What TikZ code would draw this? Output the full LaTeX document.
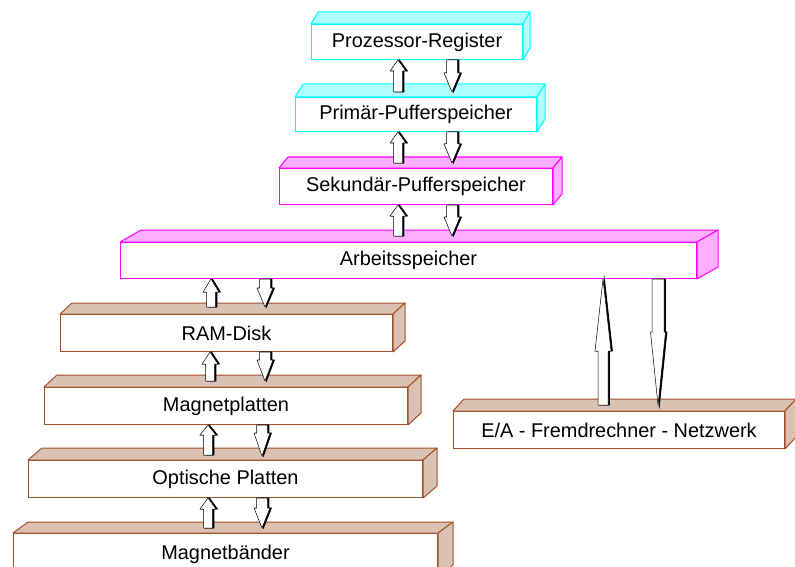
\documentclass[tikz,border=0pt]{standalone}
\usepackage{fontspec}
\setmainfont{Liberation Sans}
\usetikzlibrary{calc}
\definecolor{cyE}{RGB}{0,255,255}
\definecolor{cyF}{RGB}{175,255,255}
\definecolor{mgE}{RGB}{255,0,255}
\definecolor{mgF}{RGB}{255,175,255}
\definecolor{brE}{RGB}{160,82,45}
\definecolor{brF}{RGB}{219,193,178}
\tikzset{
  slabfront/.style={rectangle, fill=white, line width=1pt, inner sep=0pt,
    anchor=north west, font=\fontsize{19.9}{22}\selectfont},
  slabface/.style={line width=1pt, line join=round},
  arrshadow/.style={fill=black, draw=black, line width=0.9pt, line join=miter},
  arrbody/.style={fill=white, draw=black, line width=0.5pt, line join=miter}
}
% #1 name, #2 x1, #3 y1, #4 x2, #5 y2, #6 dx, #7 dy, #8 colour key, #9 text
\newcommand\slab[9]{%
  \node[slabfront, draw=#8E, minimum width={(#4-#2)*1pt}, minimum height={(#5-#3)*1pt}]
    (#1) at (#2,#3) {#9};
  \path[slabface, draw=#8E, fill=#8F] (#1.north west) -- ++(#6,-#7)
    -- ($(#1.north east)+(#6,-#7)$) -- (#1.north east) -- cycle;
  \path[slabface, draw=#8E, fill=#8F] (#1.north east) -- ++(#6,-#7)
    -- ($(#1.south east)+(#6,-#7)$) -- (#1.south east) -- cycle;
}
% #1 x, #2 upper node, #3 lower node, #4 head length, #5 gap, #6 shaft half, #7 head half
\newcommand\arrup[7]{%
  \coordinate (T) at (#1,0 |- #2.south);
  \coordinate (B) at ($(#1,0 |- #3.north)+(0,-#5)$);
  \foreach \s/\st in {1.4/arrshadow,0/arrbody}{
    \path[\st] ($(T)+(\s,0)$) -- ($(T)+(#7+\s,#4)$) -- ($(T)+(#6+\s,#4)$)
      -- ($(B)+(#6+\s,0)$) -- ($(B)+(-#6+\s,0)$) -- ($(T)+(-#6+\s,#4)$)
      -- ($(T)+(-#7+\s,#4)$) -- cycle;
  }
}
\newcommand\arrdown[7]{%
  \coordinate (T) at (#1,0 |- #2.south);
  \coordinate (B) at ($(#1,0 |- #3.north)+(0,-#5)$);
  \foreach \s/\st in {1.4/arrshadow,0/arrbody}{
    \path[\st] ($(T)+(-#6+\s,0)$) -- ($(T)+(#6+\s,0)$) -- ($(B)+(#6+\s,-#4)$)
      -- ($(B)+(#7+\s,-#4)$) -- ($(B)+(\s,0)$) -- ($(B)+(-#7+\s,-#4)$)
      -- ($(B)+(-#6+\s,-#4)$) -- cycle;
  }
}
\begin{document}
\begin{tikzpicture}[x=1pt, y=-1pt]
\clip (0,0) rectangle (795,567);
\fill[white] (0,0) rectangle (795,567);
\slab{b1}{311}{24}{522}{59}{7}{12}{cy}{Prozessor-Register}
\slab{b2}{295}{97}{536}{131}{8}{13}{cy}{Primär-Pufferspeicher}
\slab{b3}{279}{168}{552}{204}{9}{11}{mg}{Sekundär-Pufferspeicher}
\slab{b4}{120}{242}{696}{278}{21}{12}{mg}{Arbeitsspeicher}
\slab{b5}{60}{314}{392}{351}{12}{11}{br}{RAM-Disk}
\slab{b6}{44}{387}{407}{424}{13}{12}{br}{Magnetplatten}
\slab{b7}{28}{460}{422}{497}{14}{12}{br}{Optische Platten}
\slab{b8}{13}{533}{437}{575}{15}{11}{br}{Magnetbänder}
\slab{b9}{453}{411}{784}{448}{11}{12}{br}{E/A - Fremdrechner - Netzwerk}
% arrows
\arrup{398}{b1}{b2}{11}{5}{4.5}{8}
\arrdown{452}{b1}{b2}{19}{5}{5.5}{8}
\arrup{398}{b2}{b3}{11}{5}{4.5}{8}
\arrdown{452}{b2}{b3}{19}{5}{5.5}{8}
\arrup{398}{b3}{b4}{11}{6}{4.5}{8}
\arrdown{452}{b3}{b4}{19}{6}{5.5}{8}
\arrup{211}{b4}{b5}{13}{7}{4.5}{8}
\arrdown{265}{b4}{b5}{19}{7}{5.5}{8}
\arrup{210}{b5}{b6}{12}{6}{4.5}{8}
\arrdown{265}{b5}{b6}{21}{6}{5.5}{8}
\arrup{208}{b6}{b7}{10}{5}{4.5}{8}
\arrdown{262}{b6}{b7}{23}{4}{5.5}{8}
\arrup{208}{b7}{b8}{11}{5}{4.5}{8}
\arrdown{262}{b7}{b8}{20}{5}{5.5}{8}
\arrup{603}{b4}{b9}{72}{6}{5}{8}
\arrdown{658}{b4}{b9}{73}{6}{6}{7.5}
\end{tikzpicture}
\end{document}
